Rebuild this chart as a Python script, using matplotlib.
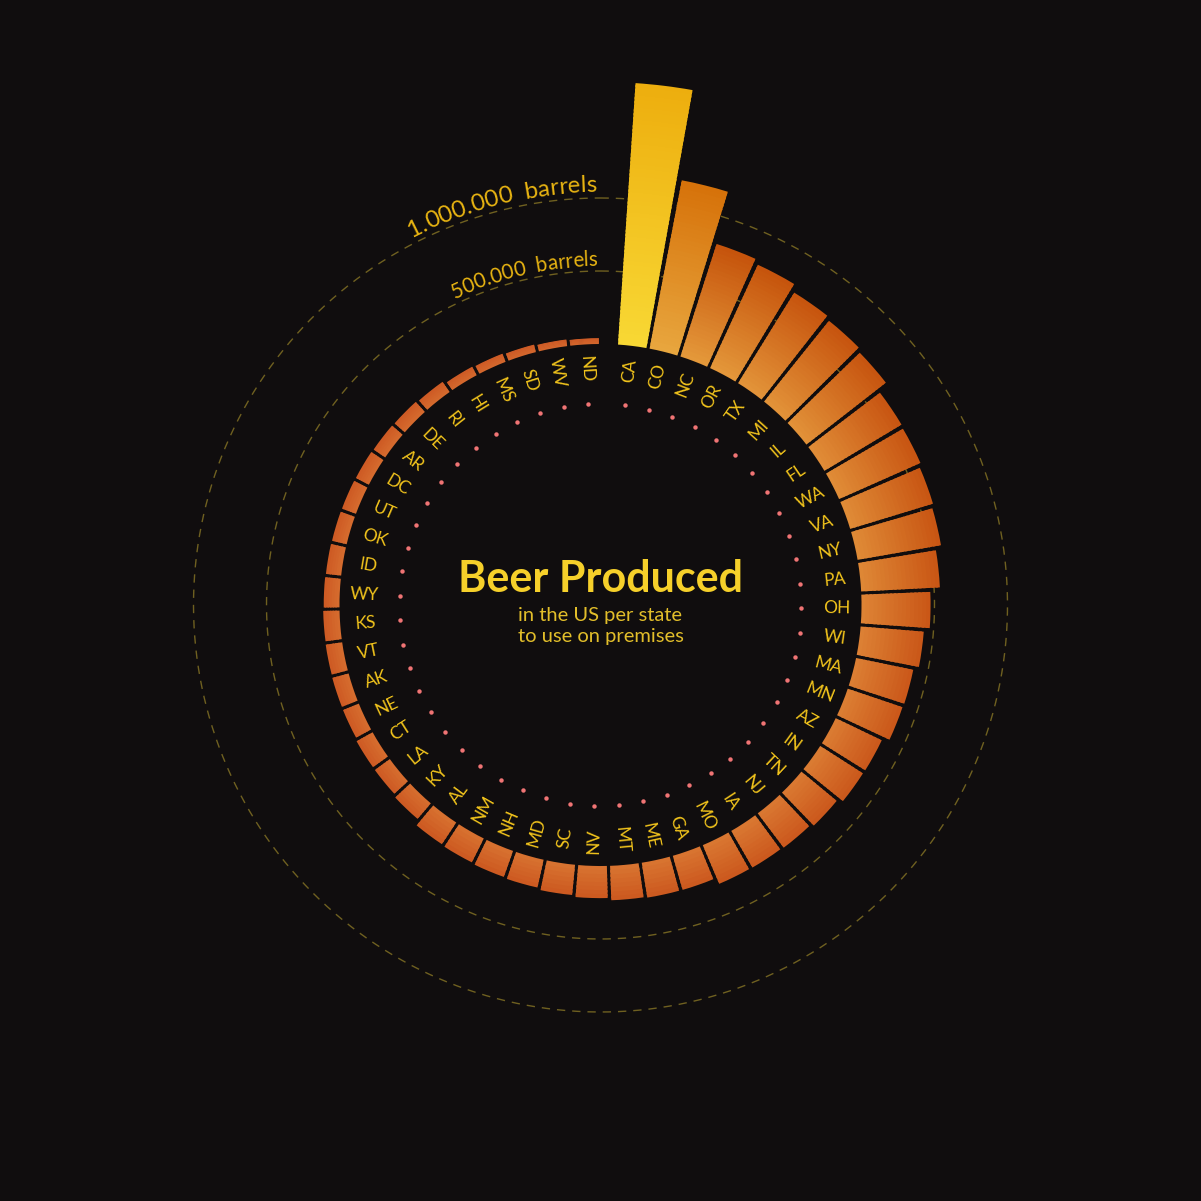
import numpy as np
import matplotlib
matplotlib.use("Agg")
import matplotlib.pyplot as plt
from matplotlib.font_manager import FontProperties
from matplotlib.colors import to_rgb

# beer produced for on-premises use, millions of barrels
states = ["CA", "CO", "NC", "OR", "TX", "MI", "IL", "FL", "WA", "VA", "NY", "PA",
          "OH", "WI", "MA", "MN", "AZ", "IN", "TN", "NJ", "IA", "MO", "GA", "ME",
          "MT", "NV", "SC", "MD", "NH", "NM", "AL", "KY", "LA", "CT", "NE", "AK",
          "VT", "KS", "WY", "ID", "OK", "UT", "DC", "AR", "DE", "RI", "HI", "MS",
          "SD", "WV", "ND"]
barrels = [1.795, 1.174, 0.81, 0.78, 0.73, 0.71, 0.69, 0.616, 0.61, 0.593, 0.58, 0.54,
           0.473, 0.434, 0.40, 0.396, 0.35, 0.348, 0.314, 0.295, 0.29, 0.288, 0.243, 0.242,
           0.236, 0.22, 0.208, 0.195, 0.189, 0.183, 0.178, 0.14, 0.127, 0.126, 0.117, 0.116,
           0.114, 0.112, 0.108, 0.105, 0.103, 0.102, 0.10, 0.096, 0.093, 0.085, 0.066, 0.06,
           0.053, 0.046, 0.04]
ring_values = [0.5, 1.0]
ring_labels = ["500.000  barrels", "1.000.000  barrels"]

BG = "#100d0e"
YELLOW = "#f2c41c"
FONT = "Lato"

R0 = 261.0        # radius of zero barrels, px
SCALE = 146.0     # px per million barrels


def radius(v):
    return R0 + SCALE * np.asarray(v)


def mix(c1, c2, t):
    a, b = np.array(to_rgb(c1)), np.array(to_rgb(c2))
    return a + (b - a) * t


fig = plt.figure(figsize=(12.01, 12.01), dpi=100, facecolor=BG)
ax = fig.add_axes([0, -4.5 / 1201, 1, 1], projection="polar")
ax.set_facecolor(BG)
ax.set_theta_zero_location("N")
ax.set_theta_direction(-1)
ax.set_ylim(0, 600.5)
ax.set_axis_off()

n = len(states)
slot = 2 * np.pi / (n + 0.5)
theta = slot * (np.arange(n) + 1.0)
width = slot * 0.9

# reference rings (behind the bars)
full = np.linspace(0, 2 * np.pi, 500)
for v in ring_values:
    ax.plot(full, np.full_like(full, radius(v)), color="#6f6020", lw=1.0,
            dashes=(6, 5), zorder=1)

# bars with a gradient from base to tip
for i, (th, v) in enumerate(zip(theta, barrels)):
    if i == 0:
        base, tip = "#f8d834", "#edae0e"
    elif i == 1:
        base, tip = "#e8a63e", "#d6720a"
    else:
        t = min(1.0, v / 0.8)
        base = mix("#d3642c", "#e4983a", t)
        tip = mix("#cf5c28", "#c6540c", t)
    h = SCALE * v
    steps = max(6, int(h / 4))
    dh = h / steps
    for k in range(steps):
        c = mix(base, tip, k / max(1, steps - 1))
        hk = dh * 1.6 if k < steps - 1 else dh
        ax.bar(th, hk, width=width, bottom=R0 + k * dh, color=c, linewidth=0,
               zorder=2)

# dotted inner ring and state labels
ax.plot(theta, np.full(n, 201.0), "o", color="#f07474", markersize=3.2,
        markeredgewidth=0)
for th, s in zip(theta, states):
    c = np.degrees(th)
    rot = 90 - c if c < 180 else 270 - c
    ax.text(th, 236, s, rotation=rot, rotation_mode="anchor", ha="center",
            va="center", color=YELLOW, fontsize=12.5, family=FONT)

# curved ring labels
renderer = fig.canvas.get_renderer()


def arc_text(text, r, end_deg, size):
    fp = FontProperties(family=FONT, size=size)
    total = renderer.get_text_width_height_descent(text, fp, ismath=False)[0]
    prev = 0.0
    for i, ch in enumerate(text):
        w = renderer.get_text_width_height_descent(text[:i + 1], fp, ismath=False)[0]
        mid = (prev + w) / 2
        prev = w
        if ch == " ":
            continue
        ang = end_deg - np.degrees((total - mid) / r)
        ax.text(np.radians(ang), r, ch, rotation=-ang, rotation_mode="anchor",
                ha="center", va="baseline", color="#e8b412", fontproperties=fp)


arc_text(ring_labels[0], radius(ring_values[0]) + 5, -0.5, 14.8)
arc_text(ring_labels[1], radius(ring_values[1]) + 6, -0.5, 17.3)

# centre title
fig.text(0.5, 1 - 592 / 1201, "Beer Produced", ha="center", va="baseline",
         color="#f6d02a", fontsize=31, fontweight="bold", family=FONT)
fig.text(0.5, 1 - 621 / 1201, "in the US per state", ha="center", va="baseline",
         color="#e2be2a", fontsize=14.5, family=FONT)
fig.text(0.5, 1 - 642 / 1201, "to use on premises", ha="center", va="baseline",
         color="#e2be2a", fontsize=14.5, family=FONT)

fig.savefig("out.png", dpi=100, facecolor=BG)
